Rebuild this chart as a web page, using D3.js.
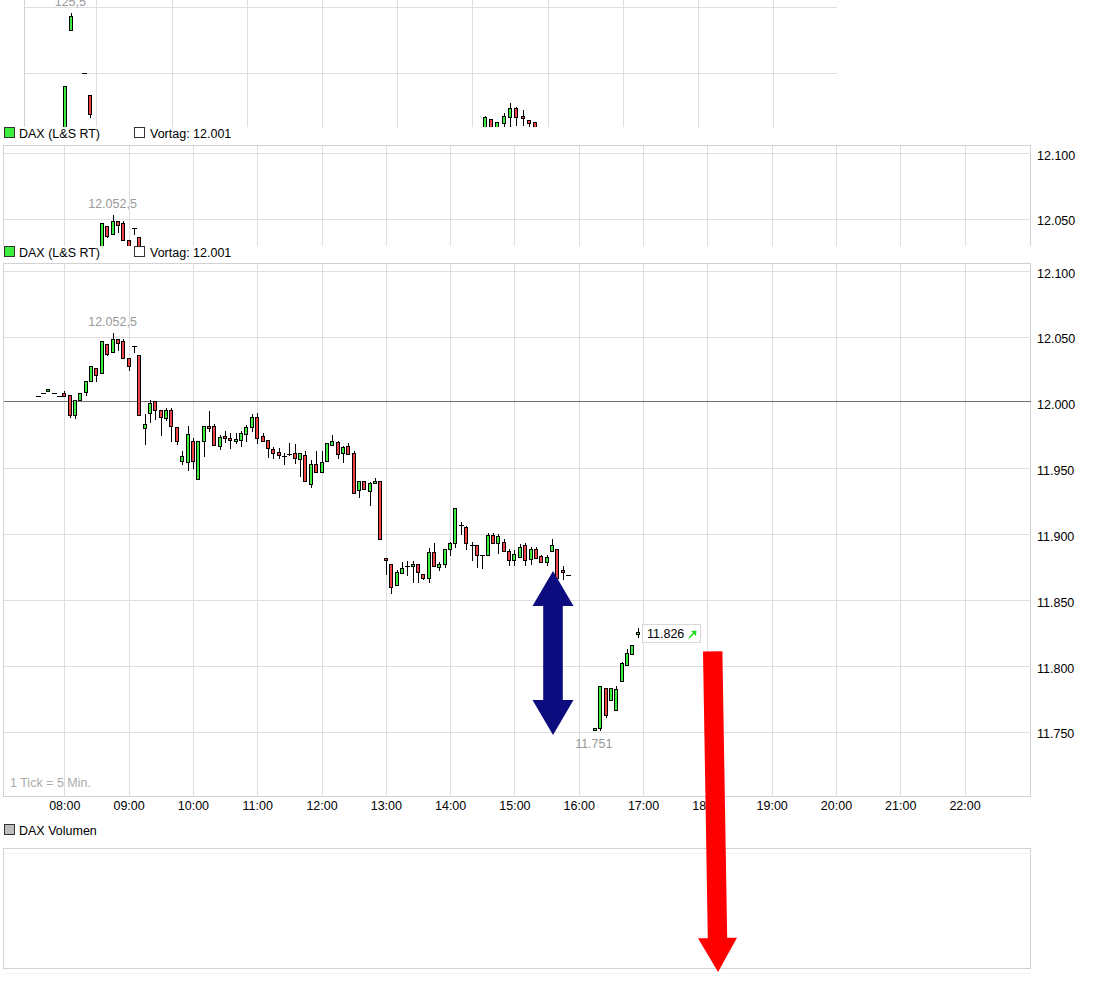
<!DOCTYPE html>
<html><head><meta charset="utf-8">
<script src="https://cdn.jsdelivr.net/npm/d3@7"></script>
<style>
html,body{margin:0;padding:0;background:#fff;}
svg{display:block;font-family:"Liberation Sans",Arial,sans-serif;}
</style></head><body>
<svg id="c" width="1111" height="982"></svg>
<script>
// ---------------- DATA ----------------
const seriesName = "DAX (L&S RT)";
const volumeName = "DAX Volumen";
const vortag = 12001;
const tickNote = "1 Tick = 5 Min.";
const hourTicks = ["08:00","09:00","10:00","11:00","12:00","13:00","14:00","15:00","16:00","17:00","18:00","19:00","20:00","21:00","22:00"];
const priceTicks = [11750,11800,11850,11900,11950,12000,12050,12100];

const candleTimes = ["07:35","07:40","07:45","07:50","07:55","08:00","08:05","08:10","08:15","08:20","08:25","08:30","08:35","08:40","08:45","08:50","08:55","09:00","09:05","09:10","09:15","09:20","09:25","09:30","09:35","09:40","09:45","09:50","09:55","10:00","10:05","10:10","10:15","10:20","10:25","10:30","10:35","10:40","10:45","10:50","10:55","11:00","11:05","11:10","11:15","11:20","11:25","11:30","11:35","11:40","11:45","11:50","11:55","12:00","12:05","12:10","12:15","12:20","12:25","12:30","12:35","12:40","12:45","12:50","12:55","13:00","13:05","13:10","13:15","13:20","13:25","13:30","13:35","13:40","13:45","13:50","13:55","14:00","14:05","14:10","14:15","14:20","14:25","14:30","14:35","14:40","14:45","14:50","14:55","15:00","15:05","15:10","15:15","15:20","15:25","15:30","15:35","15:40","15:45","15:50","16:15","16:20","16:25","16:30","16:35","16:40","16:45","16:50","16:55"];
const candleOpen = [12005,12007,12008.5,12007,12005,12007,12006,11990.5,12001.5,12008,12016,12026.5,12022.5,12044.5,12038,12048,12047,12033.5,12042.5,12036,11980.5,11992,12001,11994,11988.5,11994,11981.5,11955.5,11954.5,11971,11942,11970.5,11982,11982.5,11967,11974.5,11973,11971,11971.5,11976,11981.5,11989,11974.5,11971.5,11964.5,11962.5,11959,11961,11961.5,11957,11960,11938,11953,11947,11955.5,11967.5,11970,11961.5,11967,11961.5,11933.5,11940,11932.5,11938.5,11940,11882,11877,11861.5,11870.5,11875.5,11875.5,11877,11870,11866.5,11886.5,11875,11877,11888.5,11893.5,11907,11905.5,11891.5,11891.5,11884.5,11884,11899,11893,11894,11887,11880.5,11883,11891.5,11881.5,11888.5,11883.5,11879,11887.5,11888.5,11872.5,11869,11751,11752.5,11783,11774,11766.5,11788.5,11800.5,11809,11824.5];
const candleHigh = [12005,12007,12010.5,12007,12005,12009,12006,12002,12007.5,12016.5,12028,12026.5,12046.5,12044.5,12052.5,12048,12048,12033.5,12042.5,12036,11991,12001.5,12001,11994,11995.5,11995.5,11981.5,11963,11982,11973,11971,11982,11993.5,11984,11975,11978.5,11977,11977,11978.5,11983,11991.5,11992,11976.5,11971.5,11966.5,11965.5,11962,11969,11968.5,11961.5,11963.5,11956,11963.5,11963.5,11969,11975,11971,11967,11969,11963.5,11940.5,11940,11939.5,11942.5,11940,11882,11877,11873,11879,11879.5,11879.5,11877,11870,11889.5,11893.5,11879,11888.5,11894,11920,11909,11906,11894,11891.5,11884.5,11900.5,11900.5,11900,11896,11888.5,11888,11892.5,11893.5,11890,11890,11884.5,11884.5,11896,11888.5,11875.5,11869,11753,11785,11783,11783.5,11784.5,11803,11812.5,11815.5,11829];
const candleLow = [12005,12007,12008.5,12007,12005,12005,11989,11988.5,12001.5,12006,12016,12016.5,12022.5,12036,12038,12040,12034,12025,12038,11990.5,11968.5,11985.5,11987.5,11975,11986.5,11970.5,11968.5,11953.5,11948.5,11950.5,11942,11959.5,11978,11967.5,11964.5,11970,11965.5,11969.5,11967,11971,11978.5,11969.5,11971,11958.5,11958,11957.5,11953.5,11960,11954,11944.5,11940,11935.5,11947.5,11947,11955.5,11967.5,11958,11955,11961,11931,11928.5,11934,11922.5,11938.5,11896,11869.5,11855,11861.5,11870.5,11869,11864,11864,11866,11863.5,11875.5,11873,11875,11884,11890,11900,11888.5,11880,11875,11874.5,11884,11893.5,11886,11887,11876.5,11876.5,11883,11876.5,11877.5,11882,11878.5,11876.5,11887.5,11867,11866,11869,11751,11751,11761,11774,11766.5,11788.5,11800.5,11809,11822];
const candleClose = [12005,12007,12010.5,12007,12005,12005,11990.5,12002,12007.5,12016.5,12028,12020.5,12046.5,12037,12048.5,12045,12034,12028,12042.5,11990.5,11983.5,11999.5,11994.5,11989,11994,11982,11970.5,11959,11976,11955.5,11971,11982,11980.5,11967.5,11973.5,11973,11971.5,11972.5,11977,11981,11989,11973,11971,11965.5,11961.5,11960,11959,11961,11958,11961.5,11940,11953,11947.5,11955,11969,11970.5,11960.5,11966.5,11961,11931,11940,11934,11938.5,11940,11896,11880,11859.5,11871,11874.5,11875.5,11877.5,11871,11867,11886.5,11875.5,11877,11888.5,11893,11920,11907,11893,11891.5,11884,11884.5,11899,11893.5,11898.5,11887,11880,11885,11890.5,11880.5,11888.5,11882,11878.5,11883,11892,11867,11871,11869,11753,11785,11762.5,11783.5,11782.5,11802,11809.5,11815.5,11826];

// fragment of another chart at the top of the picture
const topHighLabel = "125,5";
const topHourTicks = ["08:00","09:00","10:00","11:00","12:00","13:00","14:00","15:00","16:00","17:00"];
const topPriceTicks = [125,126];
const topTimes = ["07:35","07:40","07:50","07:55","13:10","13:15","13:20","13:25","13:30","13:35","13:40","13:45","13:50"];
const topOpen  = [123.97,125.65,125.0,124.66,124.0,124.29,124.05,124.23,124.33,124.46,124.34,124.27,124.24];
const topHigh  = [124.80,125.91,125.0,124.66,124.34,124.29,124.24,124.38,124.53,124.47,124.43,124.27,124.24];
const topLow   = [123.97,125.65,125.0,124.32,124.0,124.0,124.05,124.10,124.10,124.20,124.20,124.17,124.10];
const topClose = [124.80,125.87,125.0,124.37,124.32,124.0,124.24,124.34,124.46,124.33,124.30,124.23,124.10];

// hand-drawn arrows (time, price) endpoints
const blueArrow = ["15:36", 11872, 11747.5];      // time, top value, bottom value
const redArrow = [["18:05", 11811], ["18:10", 11567.5]]; // start, tip

// ---------------- HELPERS ----------------
const FS = 12.5;
const toMin = s => { const [h,m] = s.split(":").map(Number); return h*60+m; };
const loc = d3.formatLocale({decimal:",", thousands:".", grouping:[3], currency:["","€"]});
const fmtInt = loc.format(",.0f");
const fmtHalf = loc.format(",.1f");
const fmtPrice = v => (v % 1 ? fmtHalf(v) : fmtInt(v));
const GREEN = "#3ded3d", RED = "#ec4444", GRID = "#dedede", BORDER = "#d2d2d2";

const candles = candleTimes.map((t,i)=>({t:toMin(t), o:candleOpen[i], h:candleHigh[i], l:candleLow[i], c:candleClose[i]}));
const topCandles = topTimes.map((t,i)=>({t:toMin(t), o:topOpen[i], h:topHigh[i], l:topLow[i], c:topClose[i]}));

const svg = d3.select("#c");
const defs = svg.append("defs");

const x = d3.scaleLinear().domain([422.8, 1382]).range([3, 1031]);
const y = d3.scaleLinear().domain([11700.4, 12105.9]).range([797, 263]);

function drawCandles(g, data, xs, ys){
  const sel = g.append("g").selectAll("g").data(data).join("g");
  sel.each(function(d){
    const G = d3.select(this);
    const P = Math.round(xs(d.t));
    const yh = Math.round(ys(d.h)), yl = Math.round(ys(d.l));
    if (yl > yh) G.append("line").attr("x1",P+0.5).attr("x2",P+0.5).attr("y1",yh).attr("y2",yl+1).attr("stroke","#000").attr("stroke-width",1);
    if (d.o === d.c) {
      const yy = Math.round(ys(d.o))+0.5;
      G.append("line").attr("x1",P-2).attr("x2",P+3).attr("y1",yy).attr("y2",yy).attr("stroke","#000").attr("stroke-width",1);
    } else {
      const yt = Math.round(ys(Math.max(d.o,d.c))), yb = Math.round(ys(Math.min(d.o,d.c)));
      G.append("rect").attr("x",P-1.5).attr("y",yt+0.5).attr("width",3).attr("height",Math.max(yb-yt,1))
        .attr("fill", d.c > d.o ? GREEN : RED).attr("stroke","#000").attr("stroke-width",1);
    }
  });
}

function drawLegend(yc, squareFill, label, extra){
  const g = svg.append("g");
  g.append("rect").attr("x",4.5).attr("y",yc-5.5).attr("width",10).attr("height",10).attr("fill",squareFill).attr("stroke","#333");
  g.append("text").attr("x",19).attr("y",yc+4.5).attr("font-size",FS).attr("fill","#000").text(label);
  if (extra){
    g.append("rect").attr("x",134.5).attr("y",yc-5.5).attr("width",10).attr("height",10).attr("fill","#fff").attr("stroke","#333");
    g.append("text").attr("x",150).attr("y",yc+4.5).attr("font-size",FS).attr("fill","#000").text(extra);
  }
}

function drawPricePanel(g){
  g.append("rect").attr("x",3.5).attr("y",263.5).attr("width",1027).attr("height",533).attr("fill","#fff").attr("stroke",BORDER);
  g.append("g").selectAll("line").data(hourTicks).join("line")
    .attr("x1",d=>Math.round(x(toMin(d)))+0.5).attr("x2",d=>Math.round(x(toMin(d)))+0.5)
    .attr("y1",264).attr("y2",797).attr("stroke",GRID);
  g.append("g").selectAll("line").data(priceTicks.filter(v=>v!==12000)).join("line")
    .attr("x1",4).attr("x2",1031).attr("y1",d=>Math.round(y(d))+0.5).attr("y2",d=>Math.round(y(d))+0.5).attr("stroke",GRID);
  // Vortag line
  g.append("line").attr("x1",4).attr("x2",1031).attr("y1",Math.round(y(vortag))+0.5).attr("y2",Math.round(y(vortag))+0.5)
    .attr("stroke","#707070");
  drawCandles(g, candles, x, y);
  // high label
  const hi = candles.reduce((a,b)=>b.h>a.h?b:a);
  g.append("text").attr("x",x(hi.t)).attr("y",y(hi.h)-7).attr("text-anchor","middle").attr("font-size",FS).attr("fill","#9a9a9a").text(fmtPrice(hi.h));
  // low label
  const lo = candles.reduce((a,b)=>b.l<a.l?b:a);
  g.append("text").attr("x",x(lo.t)-1).attr("y",y(lo.l)+18).attr("text-anchor","middle").attr("font-size",FS).attr("fill","#9a9a9a").text(fmtPrice(lo.l));
  // right axis
  const ax = g.append("g").attr("transform","translate(1031,0)")
    .call(d3.axisRight(y).tickValues(priceTicks).tickFormat(fmtInt).tickSize(0).tickPadding(6));
  ax.select(".domain").remove();
  ax.selectAll("text").attr("font-size",FS).attr("fill","#000").attr("font-family","Liberation Sans, Arial, sans-serif").attr("dy","0.5em");
}

// ---------------- TOP FRAGMENT ----------------
const topX = d3.scaleLinear().domain([422.2, 1070.9]).range([24, 837]);
const topY = d3.scaleLinear().domain([124, 126]).range([138.1, 7.3]);
defs.append("clipPath").attr("id","clipTop").append("rect").attr("x",0).attr("y",0).attr("width",1111).attr("height",127);
const topG = svg.append("g").attr("clip-path","url(#clipTop)");
topG.append("line").attr("x1",24.5).attr("x2",24.5).attr("y1",0).attr("y2",127).attr("stroke",BORDER);
topG.append("g").selectAll("line").data(topHourTicks).join("line")
  .attr("x1",d=>Math.round(topX(toMin(d)))+0.5).attr("x2",d=>Math.round(topX(toMin(d)))+0.5)
  .attr("y1",0).attr("y2",127).attr("stroke",GRID);
topG.append("g").selectAll("line").data(topPriceTicks).join("line")
  .attr("x1",25).attr("x2",837).attr("y1",d=>Math.round(topY(d))+0.5).attr("y2",d=>Math.round(topY(d))+0.5).attr("stroke",GRID);
drawCandles(topG, topCandles, topX, topY);
{
  const hi = topCandles.reduce((a,b)=>b.h>a.h?b:a);
  topG.append("text").attr("x",topX(hi.t)-1).attr("y",topY(hi.h)-7.5).attr("text-anchor","middle").attr("font-size",FS).attr("fill","#9a9a9a").text(topHighLabel);
}

// ---------------- PANEL 2 (shifted copy) ----------------
drawLegend(133, GREEN, seriesName, "Vortag: " + fmtInt(vortag));
defs.append("clipPath").attr("id","clip2").append("rect").attr("x",0).attr("y",263).attr("width",1111).attr("height",101);
const p2 = svg.append("g").attr("transform","translate(0,-118)").append("g").attr("clip-path","url(#clip2)");
drawPricePanel(p2);

// ---------------- MAIN PANEL ----------------
drawLegend(252, GREEN, seriesName, "Vortag: " + fmtInt(vortag));
const main = svg.append("g");
drawPricePanel(main);
main.append("text").attr("x",10).attr("y",787).attr("font-size",FS).attr("fill","#ababab").text(tickNote);
const bx = main.append("g").attr("transform","translate(0,797)")
  .call(d3.axisBottom(x).tickValues(hourTicks.map(toMin)).tickFormat((d,i)=>hourTicks[i]).tickSize(0).tickPadding(4));
bx.select(".domain").remove();
bx.selectAll("text").attr("font-size",FS).attr("fill","#000").attr("font-family","Liberation Sans, Arial, sans-serif");

// last price box
{
  const last = candles[candles.length-1];
  const lx = Math.round(x(last.t)) + 4, ly = Math.round(y(last.c));
  const bg = main.append("g");
  bg.append("rect").attr("x",lx+0.5).attr("y",ly-7.5).attr("width",58).attr("height",18).attr("fill","#fff").attr("stroke","#d8d8d8");
  bg.append("text").attr("x",lx+5).attr("y",ly+6).attr("font-size",FS).attr("fill","#000").text(fmtPrice(last.c));
  const ax0 = lx+47, ay0 = ly+6;
  bg.append("path").attr("d",`M${ax0},${ay0} L${ax0+6},${ay0-6}`).attr("stroke","#22dd22").attr("stroke-width",1.6).attr("fill","none");
  bg.append("path").attr("d",`M${ax0+2},${ay0-7} L${ax0+7.5},${ay0-7.5} L${ax0+7},${ay0-2} Z`).attr("fill","#22dd22");
}

// ---------------- VOLUME PANEL ----------------
drawLegend(830, "#bdbdbd", volumeName, null);
svg.append("rect").attr("x",3.5).attr("y",848.5).attr("width",1027).attr("height",120).attr("fill","#fff").attr("stroke",BORDER);
svg.append("line").attr("x1",4).attr("x2",1031).attr("y1",853.5).attr("y2",853.5).attr("stroke","#f2f2f2");
svg.append("line").attr("x1",4).attr("x2",1031).attr("y1",973.5).attr("y2",973.5).attr("stroke","#f4f4f4");

// ---------------- ARROWS ----------------
{
  const cx = x(toMin(blueArrow[0])), t = y(blueArrow[1]), b = y(blueArrow[2]);
  const hl = 35, hw = 20.5, sw = 9.8;
  const pts = [[cx,t],[cx+hw,t+hl],[cx+sw,t+hl],[cx+sw,b-hl],[cx+hw,b-hl],[cx,b],[cx-hw,b-hl],[cx-sw,b-hl],[cx-sw,t+hl],[cx-hw,t+hl]];
  svg.append("path").attr("d","M"+pts.map(p=>p.join(",")).join("L")+"Z").attr("fill","#0c0c7e");
}
{
  const x0 = x(toMin(redArrow[0][0])), y0 = y(redArrow[0][1]);
  const x1 = x(toMin(redArrow[1][0])), y1 = y(redArrow[1][1]);
  const len = Math.hypot(x1-x0, y1-y0), ux = (x1-x0)/len, uy = (y1-y0)/len, nx = -uy, ny = ux;
  const hl = 34, hw = 19.5, sw = 9.7;
  const bxp = x1 - ux*hl, byp = y1 - uy*hl;
  const P = (px,py,k)=>[px+nx*k, py+ny*k];
  const pts = [P(x0,y0,sw),P(bxp,byp,sw),P(bxp,byp,hw),[x1,y1],P(bxp,byp,-hw),P(bxp,byp,-sw),P(x0,y0,-sw)];
  svg.append("path").attr("d","M"+pts.map(p=>p.join(",")).join("L")+"Z").attr("fill","#ff0000");
}
</script>
</body></html>
